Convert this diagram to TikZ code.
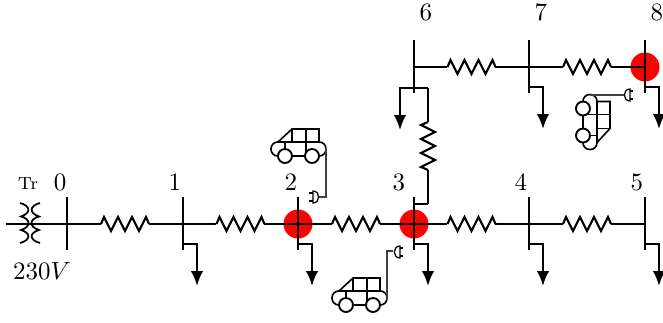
\documentclass[tikz,border=0pt]{standalone}
\usetikzlibrary{calc}
\usetikzlibrary{arrows.meta}

\tikzset{
  wire/.style={black,line width=.85pt},
  loadarrow/.style={wire,-{Latex[length=6pt,width=5pt]}},
  cable/.style={black!75,line width=.45pt},
  busno/.style={inner sep=0pt},
  pics/zig/.style={code={
    \draw[wire] (-24,0) -- (-21,-7) -- (-14,7) -- (-7,-7) -- (0,7) -- (7,-7) -- (14,7) -- (21,-7) -- (24,0);
  }},
  pics/car/.style={code={
    \draw[line width=.65pt,rounded corners=2.7pt] (-27.5,-14) rectangle (27.5,0);
    \draw[line width=.65pt] (-20.5,-14) -- (-6.5,-27) -- (20.5,-27) -- (20.5,-14);
    \draw[line width=.65pt] (-6.5,-27) -- (-6.5,-14) (7.5,-27) -- (7.5,0) (-13.5,-14) -- (-13.5,0);
    \draw[line width=.75pt,fill=white] (-13.5,0) circle (7) (13.5,0) circle (7);
  }},
  pics/plug/.style={code={
    \draw[line width=.5pt] (0,-6) .. controls (-7.5,-6) and (-7.5,6) .. (0,6) -- cycle;
    \draw[line width=.5pt] (0,-4) -- (3.5,-4) (0,4) -- (3.5,4);
  }}
}

\begin{document}
\begin{tikzpicture}[x=.4pt,y=-.4pt]

\useasboundingbox (0,0) rectangle (663,322);

\coordinate (S) at (6,224);
\coordinate (B0) at (67,224);
\coordinate (B1) at (183,224);
\coordinate (B2) at (298,224);
\coordinate (B3) at (414,224);
\coordinate (B4) at (529,224);
\coordinate (B5) at (645,224);
\coordinate (B6) at (414,67);
\coordinate (B7) at (529,67);
\coordinate (B8) at (645,67);
\coordinate (R3) at (428,204);
\coordinate (R6) at (428,88);

% charging points
\foreach \b in {B2,B3,B8}
  \fill[red] (\b) circle (14.5);

% bars
\foreach \b in {B0,B1,B2,B3,B4,B5,B6,B7,B8}
  \draw[wire] ($(\b)+(0,-27)$) -- ($(\b)+(0,26)$);

% lines
\draw[wire] (S) -- (B0);
\foreach \a/\b/\r in {B0/B1/0,B1/B2/0,B2/B3/0,B3/B4/0,B4/B5/0,B6/B7/0,B7/B8/0,R3/R6/90}{
  \coordinate (M) at ($(\a)!.5!(\b)$);
  \draw[wire] (\a) -- ($(M)!9.6pt!(\a)$) (\b) -- ($(M)!9.6pt!(\b)$);
  \pic[rotate=\r] at (M) {zig};
}
\draw[wire] (414,88) -- (R6);
\draw[wire] (414,204) -- (R3);

% loads
\foreach \b in {B1,B2,B3,B4,B5,B7,B8}
  \draw[loadarrow] ($(\b)+(0,20)$) -- ++(14,0) -- ++(0,42);
\draw[loadarrow] ($(B6)+(0,21)$) -- ++(-14,0) -- ++(0,42);

% transformer
\draw[line width=.7pt] (20,203) .. controls (31,206) and (31,213) .. (21,216.5) .. controls (31,219) and (31,227) .. (21,230) .. controls (31,233) and (31,240) .. (20,243);
\draw[line width=.7pt] (40,203) .. controls (29,206) and (29,213) .. (39,216.5) .. controls (29,219) and (29,227) .. (39,230) .. controls (29,233) and (29,240) .. (40,243);

% cars
\pic at (298.5,156) {car};
\draw[cable] (326,148) -- (326,197) -- (318,197);
\pic[xscale=-1] at (313,197) {plug};

\pic at (359.5,305) {car};
\draw[cable] (387,300) -- (387,251) -- (393,251);
\pic at (400,252) {plug};

\pic[cm={0,1,1,0,(0,0)}] at (583,122) {car};
\draw[cable] (590,95) -- (624,95);
\pic at (630,95) {plug};

% numbers
\node[busno] (n0) at (60,182) {0};
\node[busno] (n1) at (175,182) {1};
\node[busno] (n2) at (291,182) {2};
\node[busno] (n3) at (399,182) {3};
\node[busno] (n4) at (521,182) {4};
\node[busno] (n5) at (637,182) {5};
\node[busno] (n6) at (426,12) {6};
\node[busno] (n7) at (541,12) {7};
\node[busno] (n8) at (657,12) {8};
\node[busno] (tr) at (28,184) {\scriptsize Tr};
\node[busno] (volt) at (42,271) {$230V$};

\end{tikzpicture}
\end{document}
